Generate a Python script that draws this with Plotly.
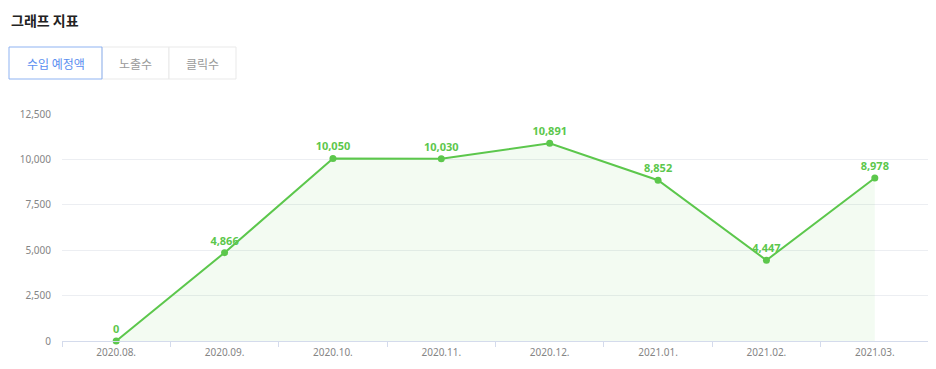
import plotly.graph_objects as go

months = ["2020.08.", "2020.09.", "2020.10.", "2020.11.", "2020.12.", "2021.01.", "2021.02.", "2021.03."]
revenue = [0, 4866, 10050, 10030, 10891, 8852, 4447, 8978]
y_ticks = [0, 2500, 5000, 7500, 10000, 12500]
tabs = ["수입 예정액", "노출수", "클릭수"]

OFF = 8  # page body margin
W, H = 936 - OFF, 369 - OFF
L, R, T, B = 62 - OFF, 929 - OFF, 114 - OFF, 341 - OFF

def px(x):
    return (x - OFF - L) / (R - L)

def py(y):
    return (B - (y - OFF)) / (B - T)

GREEN = "#5cc74c"
fig = go.Figure()
fig.add_trace(go.Scatter(
    x=months, y=revenue, mode="lines+markers+text",
    line=dict(color=GREEN, width=2),
    marker=dict(color=GREEN, size=7),
    fill="tozeroy", fillcolor="rgba(92,199,76,0.07)",
    text=[f"{v:,}" for v in revenue], textposition="top center",
    textfont=dict(family="Noto Sans", size=11, color=GREEN, weight="bold"),
    hoverinfo="skip", cliponaxis=False,
))

fig.update_layout(
    width=W, height=H,
    margin=dict(l=L, r=W - R, t=T, b=H - B),
    plot_bgcolor="white", paper_bgcolor="white",
    showlegend=False,
    font=dict(family="Noto Sans", size=10, color="#8a8a8a"),
    xaxis=dict(
        type="category", range=[-0.5, 7.5], showgrid=False,
        showline=True, linecolor="#d4dbec", linewidth=1,
        ticks="outside", tickson="boundaries", ticklen=5, tickcolor="#d4dbec",
        tickfont=dict(family="Noto Sans", size=10, color="#858585"),
        ticklabelstandoff=2,
        fixedrange=True,
    ),
    yaxis=dict(
        range=[0, 12500], tickvals=y_ticks, ticktext=[f"{v:,}" for v in y_ticks],
        showgrid=True, gridcolor="#eceef2", gridwidth=1, zeroline=False,
        showline=False, ticks="", ticklabelstandoff=10,
        tickfont=dict(family="Noto Sans", size=10, color="#858585"),
        fixedrange=True,
    ),
)

shapes = []
annotations = []
annotations.append(dict(
    x=px(10), y=py(8.5), xref="paper", yref="paper", xanchor="left", yanchor="top",
    text="<b>그래프 지표</b>", showarrow=False, borderpad=0,
    font=dict(family="Noto Sans CJK KR", size=14, color="#222222"),
))
tab_edges = [9, 102, 169, 236]
for i, name in enumerate(tabs):
    x0, x1 = tab_edges[i], tab_edges[i + 1]
    active = i == 0
    if not active:
        shapes.append(dict(type="rect", xref="paper", yref="paper",
                           x0=px(x0), x1=px(x1), y0=py(79), y1=py(47),
                           line=dict(color="#e9e9e9", width=1), fillcolor="white", layer="above"))
    annotations.append(dict(
        x=px((x0 + x1) / 2), y=py(63.5), xref="paper", yref="paper",
        xanchor="center", yanchor="middle", text=name, showarrow=False,
        font=dict(family="Noto Sans CJK KR", size=12, color="#5b8ef0" if active else "#9a9a9a"),
    ))
shapes.append(dict(type="rect", xref="paper", yref="paper",
                   x0=px(9), x1=px(102), y0=py(79), y1=py(47),
                   line=dict(color="#8fb3f2", width=1), fillcolor="rgba(0,0,0,0)", layer="above"))
fig.update_layout(shapes=shapes, annotations=annotations)

fig.write_html("out.html")
